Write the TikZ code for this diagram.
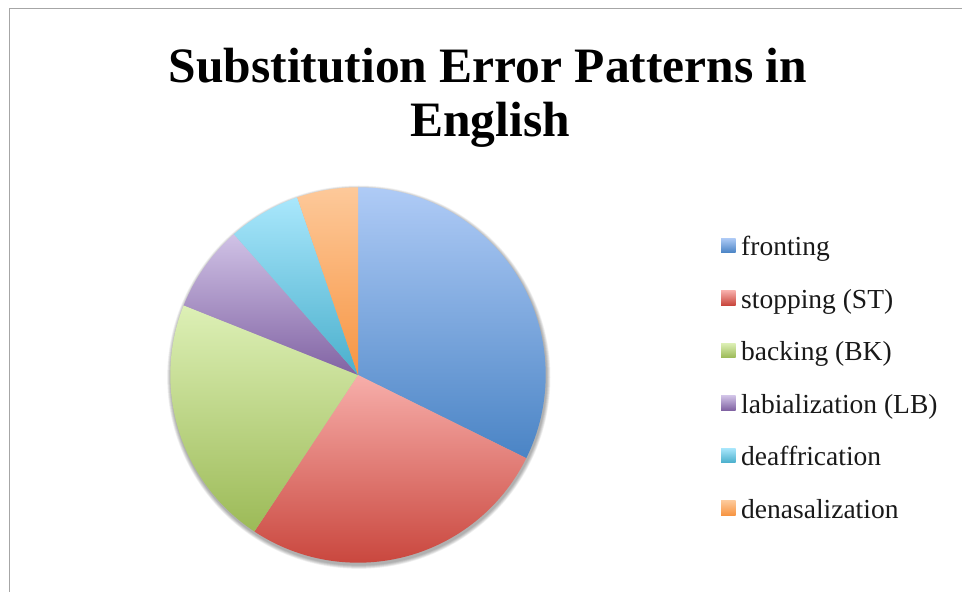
\documentclass[tikz,border=0pt]{standalone}
\usepackage{fontspec}
\setmainfont{Liberation Serif}
\definecolor{frT}{HTML}{AFCBF6}\definecolor{frB}{HTML}{4A84C5}
\definecolor{stT}{HTML}{F7AEAA}\definecolor{stB}{HTML}{C9463D}
\definecolor{bkT}{HTML}{DDF0B6}\definecolor{bkB}{HTML}{9CBA57}
\definecolor{lbT}{HTML}{D0C2E6}\definecolor{lbB}{HTML}{8163A3}
\definecolor{daT}{HTML}{A9E7FC}\definecolor{daB}{HTML}{4AAFCC}
\definecolor{dnT}{HTML}{FDC99A}\definecolor{dnB}{HTML}{F79543}
\definecolor{frameGray}{HTML}{A6A6A6}
\newcommand\pieslice[4]{%
  \path[top color=#3, bottom color=#4] (c) -- ($(c)+(#1:\pr)$) arc[start angle=#1, end angle=#2, radius=\pr] -- cycle;}
\usetikzlibrary{calc}
\tikzset{
  legsq/.style={rectangle, minimum size=14.5pt, inner sep=0pt, draw=none},
  legtext/.style={anchor=base west, inner sep=0pt, font=\fontsize{27.5}{30}\selectfont, text=black!90},
  titletext/.style={anchor=base, inner sep=0pt, font=\fontsize{49.5}{54}\selectfont\bfseries}
}
\begin{document}
\begin{tikzpicture}[x=1pt,y=1pt]
\useasboundingbox (0,0) rectangle (962,592);
\fill[white] (0,0) rectangle (962,592);
% frame
\draw[frameGray, line width=1.6pt] (9.5,0) -- (9.5,583.4) -- (962,583.4);
% title
\node[titletext] (title1) at (488,509.3) {Substitution Error Patterns in};
\node[titletext] (title2) at (490,455.3) {English};
% pie
\def\pr{187.7}
\coordinate (c) at (358,217);
% soft shadow
\foreach \k in {4,3.5,3,2.5,2,1.5,1,0.5}{
  \fill[black, opacity=0.045] ($(c)+(0.8,-2.2)$) circle[radius=\pr+\k];
}
\pieslice{90}{-26.3}{frT}{frB}
\pieslice{-26.3}{-123.5}{stT}{stB}
\pieslice{-123.5}{-201.8}{bkT}{bkB}
\pieslice{-201.8}{-228.6}{lbT}{lbB}
\pieslice{-228.6}{-251.1}{daT}{daB}
\pieslice{-251.1}{-270}{dnT}{dnB}
% legend
\node[legsq, top color=frT, bottom color=frB] (sq1) at (728.3,346.7) {};
\node[legsq, top color=stT, bottom color=stB] (sq2) at (728.3,294.2) {};
\node[legsq, top color=bkT, bottom color=bkB] (sq3) at (728.3,241.7) {};
\node[legsq, top color=lbT, bottom color=lbB] (sq4) at (728.3,189.2) {};
\node[legsq, top color=daT, bottom color=daB] (sq5) at (728.3,136.7) {};
\node[legsq, top color=dnT, bottom color=dnB] (sq6) at (728.3,84.2) {};
\node[legtext] (l1) at (741,336) {fronting};
\node[legtext] (l2) at (741,283.5) {stopping (ST)};
\node[legtext] (l3) at (741,231) {backing (BK)};
\node[legtext] (l4) at (741,178.5) {labialization (LB)};
\node[legtext] (l5) at (741,126) {deaffrication};
\node[legtext] (l6) at (741,73.5) {denasalization};
\end{tikzpicture}
\end{document}
